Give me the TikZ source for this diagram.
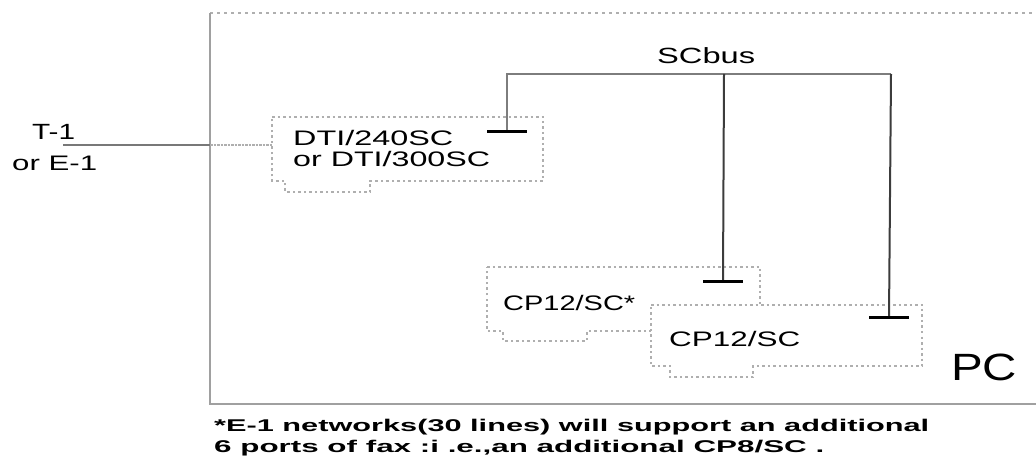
\documentclass[tikz,border=0pt]{standalone}
\usepackage{fontspec}
\setmainfont{Liberation Sans}
\newcommand{\fitw}[3]{\resizebox{#1pt}{\height}{\fontsize{#2pt}{#2pt}\selectfont #3}}
\definecolor{pcgray}{RGB}{160,160,160}
\definecolor{dotgray}{RGB}{175,175,175}
\definecolor{tgray}{RGB}{120,120,120}
\definecolor{busgray}{RGB}{125,125,125}
\definecolor{darkline}{RGB}{60,60,60}
\begin{document}
\begin{tikzpicture}[x=1pt,y=-1pt,
  pcline/.style={draw=pcgray,line width=2pt},
  pcdot/.style={draw=dotgray,line width=1.5pt,dash pattern=on 3pt off 4pt},
  card/.style={draw=dotgray,line width=1.5pt,dash pattern=on 2.5pt off 3pt,fill=white},
  tline/.style={draw=tgray,line width=2pt},
  tline2/.style={draw=dotgray,line width=2pt,dash pattern=on 2.5pt off 1pt},
  busline/.style={draw=busgray,line width=2pt},
  drop/.style={draw=darkline,line width=2pt},
  bar/.style={draw=black,line width=3pt},
  lbl/.style={inner sep=0pt,anchor=base west,text=black}]
\useasboundingbox (0,0) rectangle (1036,470);

% PC enclosure
\draw[pcdot] (210,13) -- (1036,13);
\draw[pcline] (1036,404) -- (210,404) -- (210,13);

% cards
\draw[card] (272,117) -- (543,117) -- (543,181) -- (370,181) -- (370,192)
  -- (285,192) -- (285,181) -- (272,181) -- cycle;
\draw[card] (487,267) -- (760,267) -- (760,331) -- (587,331) -- (587,341)
  -- (503,341) -- (503,331) -- (487,331) -- cycle;
\draw[card] (651,305) -- (922,305) -- (922,366) -- (753,366) -- (753,377)
  -- (670,377) -- (670,366) -- (651,366) -- cycle;

% coordinates
\coordinate (tstart) at (63,145);
\coordinate (tin) at (210,145);
\coordinate (dtiin) at (272,145);
\coordinate (busL) at (507,74);
\coordinate (busM) at (724,74);
\coordinate (busR) at (891,74);
\coordinate (b1) at (507,132);
\coordinate (b2) at (723,282);
\coordinate (b3) at (889,318);

% T-1 line
\draw[tline] (tstart) -- (tin);
\draw[tline2] (tin) -- (dtiin);

% SCbus
\draw[busline] (b1) -- (busL) -- (busR);
\draw[drop] (busM) -- (b2);
\draw[drop] (busR) -- (b3);
\draw[bar] (b1) ++(-20,0) -- ++(40,0);
\draw[bar] (b2) ++(-20,0) -- ++(40,0);
\draw[bar] (b3) ++(-20,0) -- ++(40,0);

% labels
\node[lbl] (t1) at (32,140) {\fitw{43}{22}{T-1}};
\node[lbl] (e1) at (12,171) {\fitw{85}{21}{or E-1}};
\node[lbl] (dtia) at (293,146) {\fitw{160}{21}{DTI/240SC}};
\node[lbl] (dtib) at (293,167) {\fitw{197}{21}{or DTI/300SC}};
\node[lbl] (scbus) at (657,64) {\fitw{98}{22}{SCbus}};
\node[lbl] (cpa) at (503,310) {\fitw{132}{21}{CP12/SC*}};
\node[lbl] (cpb) at (669,346) {\fitw{131}{21}{CP12/SC}};
\node[lbl] (pc) at (951,380) {\fitw{66}{38}{PC}};
\node[lbl] (fna) at (214,431) {\fitw{715}{17}{\bfseries *E-1 networks(30 lines) will support an additional}};
\node[lbl] (fnb) at (214,452) {\fitw{610}{17}{\bfseries 6 ports of fax :i .e.,an additional CP8/SC .}};
\end{tikzpicture}
\end{document}
